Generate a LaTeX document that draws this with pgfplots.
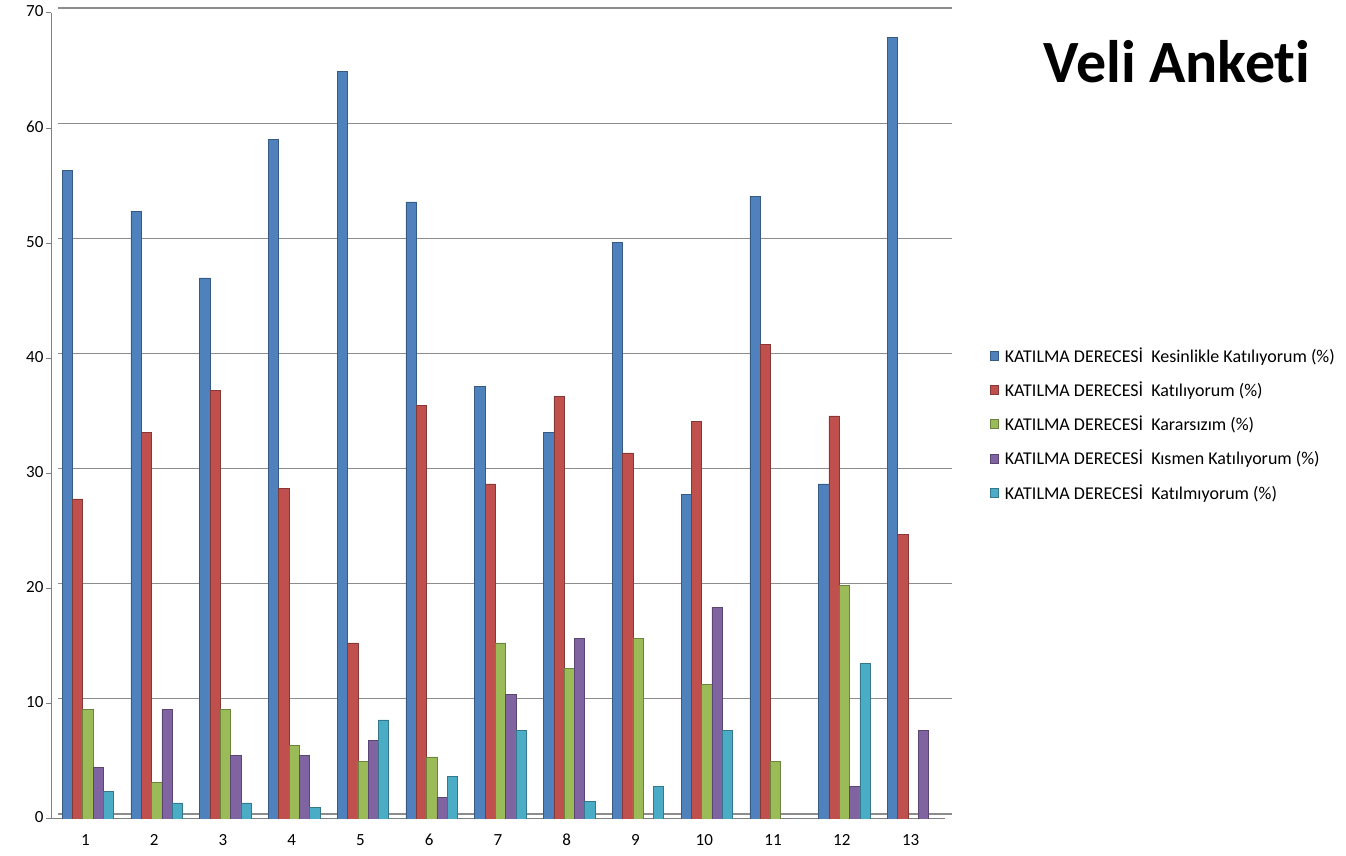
\documentclass[border=0pt]{standalone}
\usepackage{fontspec}
\setmainfont{Carlito}[Ligatures=NoCommon]
\usepackage{pgfplots}
\usepackage{pgfplotstable}
\pgfplotsset{compat=1.18}
\definecolor{c1}{HTML}{4F81BD}
\definecolor{c2}{HTML}{C0504D}
\definecolor{c3}{HTML}{9BBB59}
\definecolor{c4}{HTML}{8064A2}
\definecolor{c5}{HTML}{4BACC6}
\pgfplotstableread{
x  kes  kat  kar  kis  katm
1  56.3 27.8 9.5  4.5  2.4
2  52.8 33.6 3.2  9.5  1.4
3  47.0 37.2 9.5  5.5  1.4
4  59.0 28.7 6.4  5.5  1.0
5  64.9 15.3 5.0  6.8  8.6
6  53.6 35.9 5.4  1.9  3.7
7  37.6 29.1 15.3 10.8 7.7
8  33.6 36.7 13.1 15.7 1.5
9  50.1 31.8 15.7 0.0  2.8
10 28.2 34.5 11.7 18.4 7.7
11 54.1 41.2 5.0  0.0  0.0
12 29.1 35.0 20.3 2.8  13.5
13 67.9 24.7 0.0  7.7  0.0
}\datatable
\begin{document}
\begin{tikzpicture}
\useasboundingbox (0pt,0pt) rectangle (1346pt,856pt);
\begin{axis}[
  at={(51pt,37pt)}, anchor=south west,
  scale only axis, width=894pt, height=806pt,
  xmin=0.5, xmax=13.5, ymin=0, ymax=70,
  ytick={0,10,...,70},
  xtick={1,...,13},
  minor xtick={0.5,1.5,...,13.5},
  axis x line*=bottom, axis y line*=left,
  axis line style={black!50, line width=1pt, -},
  tick align=outside,
  major tick length=5pt, minor tick length=6pt,
  xtick style={draw=none},
  minor x tick style={black!50, line width=1pt},
  y tick style={black!50, line width=1pt},
  ymajorgrids,
  major grid style={black!45, line width=1.2pt, xshift=7pt, yshift=5pt},
  ybar=0pt, bar width=10.3pt,
  /pgf/number format/assume math mode=true,
  tick label style={font=\fontsize{17}{20}\selectfont},
  typeset ticklabels with strut,
  xticklabel style={yshift=-4pt},
  yticklabel style={xshift=1pt},
  legend image code/.code={\fill[#1] (0pt,-4.5pt) rectangle (8pt,4.5pt);},
  legend style={at={(1.047,0.590)}, anchor=north west, draw=none, fill=none,
    font=\fontsize{18}{21}\selectfont, row sep=14pt,
    nodes={inner xsep=6pt}},
  legend cell align=left,
  every axis plot/.append style={xshift=2.5pt},
]
\addplot[fill=c1, draw=c1!70!black, line width=0.6pt] table[x=x, y=kes] {\datatable};
\addplot[fill=c2, draw=c2!70!black, line width=0.6pt] table[x=x, y=kat] {\datatable};
\addplot[fill=c3, draw=c3!70!black, line width=0.6pt] table[x=x, y=kar] {\datatable};
\addplot[fill=c4, draw=c4!70!black, line width=0.6pt] table[x=x, y=kis] {\datatable};
\addplot[fill=c5, draw=c5!70!black, line width=0.6pt] table[x=x, y=katm] {\datatable};
\legend{KATILMA DERECESİ\ \ Kesinlikle Katılıyorum (\%),
        KATILMA DERECESİ\ \ Katılıyorum (\%),
        KATILMA DERECESİ\ \ Kararsızım\ (\%),
        KATILMA DERECESİ\ \ Kısmen Katılıyorum (\%),
        KATILMA DERECESİ\ \ Katılmıyorum (\%)}
\end{axis}
\node[font=\fontsize{60}{64}\selectfont\bfseries] at (1177pt,794pt) {Veli Anketi};
\end{tikzpicture}
\end{document}
